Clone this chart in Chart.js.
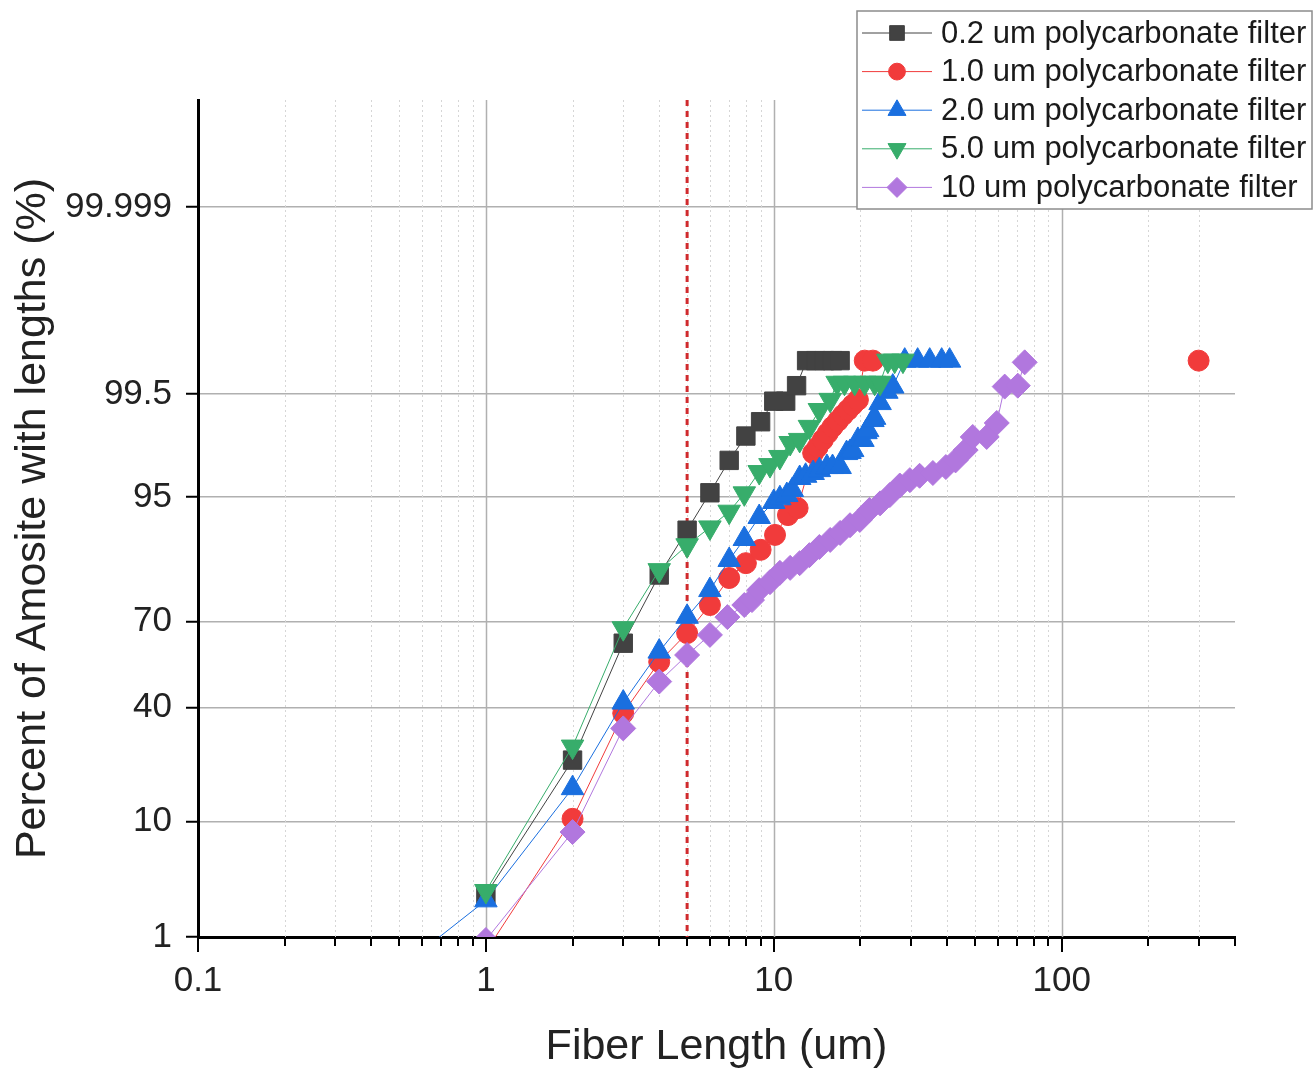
<!DOCTYPE html>
<html>
<head>
<meta charset="utf-8">
<script src="https://cdn.jsdelivr.net/npm/chart.js@4.4.1/dist/chart.umd.min.js"></script>
<style>
  body { margin: 0; background: #fff; }
  canvas { display: block; }
</style>
</head>
<body>
<canvas id="chart" width="1316" height="1073"></canvas>
<script>
// tick values
const xTickValues = [0.1, 0.2, 0.3, 0.4, 0.5, 0.6, 0.7, 0.8, 0.9,
  1, 2, 3, 4, 5, 6, 7, 8, 9, 10, 20, 30, 40, 50, 60, 70, 80, 90, 100, 200, 300, 400];
const xTickLabels = [0.1, 1, 10, 100];
const yTickValues = [1, 10, 40, 70, 95, 99.5, 99.999];
const yMin = 1;
const yMax = 99.9999916;
const cutoffLength = 5;

const seriesNames = [
  '0.2 um polycarbonate filter',
  '1.0 um polycarbonate filter',
  '2.0 um polycarbonate filter',
  '5.0 um polycarbonate filter',
  '10 um polycarbonate filter'
];

// fiber length (um) and cumulative percent
const len02 = [1, 2, 3, 4, 5, 6, 7, 8, 9, 10, 11, 12, 13, 14, 15, 16, 17];
const pct02 = [2.6, 23.3, 62.8, 82.7, 91.1, 95.4, 97.6, 98.6, 99.0, 99.4, 99.4, 99.6, 99.8, 99.8, 99.8, 99.8, 99.8];

const len10 = [1, 2, 3, 4, 5, 6, 7, 8, 9, 10.1, 11.2, 12.1, 13.7, 14.2, 14.8, 15.4, 16.0, 16.7, 17.4, 18.1, 18.8, 19.6, 20.7, 22.1, 299];
const pct10 = [0.7, 10.4, 38.0, 56.3, 66.2, 74.9, 82.0, 85.3, 87.9, 90.4, 93.1, 93.9, 97.95, 98.2, 98.47, 98.69, 98.87, 99.02, 99.15, 99.25, 99.34, 99.42, 99.8, 99.8, 99.8];

const len20 = [0.5, 1, 2, 3, 4, 5, 6, 7, 7.9, 8.9, 10.0, 10.5, 11.1, 11.6, 12.3, 12.9, 13.7, 14.4, 15.3, 16.0, 17.0,
  17.9, 18.4, 18.8, 19.6, 20.4, 20.9, 21.2, 22.1, 22.4, 23.4, 24.7, 25.9, 28.5, 31.6, 34.8, 38.3, 40.8];
const pct20 = [0.45, 2.3, 16.3, 41.7, 59.9, 71.4, 79.0, 85.95, 89.75, 92.87, 94.54, 94.9, 95.2, 95.64, 96.55, 96.7, 96.88, 97.06, 97.24, 97.24, 97.24,
  97.95, 98.0, 98.08, 98.47, 98.47, 98.72, 98.78, 99.04, 99.09, 99.37, 99.53, 99.59, 99.8, 99.8, 99.8, 99.8, 99.8];

const len50 = [1, 2, 3, 4, 5, 6, 7, 7.9, 8.9, 9.7, 10.5, 11.4, 12.3, 13.3, 14.4, 15.7, 16.6, 17.6, 19.1, 20.7, 22.4, 23.4, 24.9, 26.3, 28.1];
const pct50 = [2.8, 27.2, 67.8, 83.8, 88.7, 91.5, 93.5, 95.35, 96.94, 97.35, 97.77, 98.36, 98.47, 98.87, 99.25, 99.42, 99.63, 99.63, 99.63, 99.63, 99.63, 99.63, 99.8, 99.8, 99.8];

const len100 = [1, 2, 3, 4, 5, 6, 6.9, 7.9, 8.4, 8.9, 9.7, 10.5, 11.4, 12.3, 13.3, 14.4, 15.7, 17.0, 18.4, 19.9, 21.5,
  23.4, 25.3, 27.4, 29.7, 32.1, 35.7, 39.6, 42.8, 46.4, 49.1, 54.9, 59.5, 63.4, 70.4, 74.4];
const pct100 = [0.93, 8.4, 32.9, 49.2, 58.7, 65.6, 71.3, 74.9, 76.3, 79.0, 81.0, 83.2, 84.3, 85.3, 86.9, 88.4, 89.6, 90.7, 91.8, 92.5, 93.7,
  94.4, 95.2, 96.0, 96.4, 96.7, 96.88, 97.24, 97.6, 98.08, 98.57, 98.57, 98.97, 99.59, 99.6, 99.79];

const colors = ['#424242', '#F13B3B', '#1A6FDF', '#37AD6B', '#B177DE'];
const markers = [
  { pointStyle: 'rect', rotation: 0, radius: 13 },
  { pointStyle: 'circle', rotation: 0, radius: 10.5 },
  { pointStyle: 'triangle', rotation: 0, radius: 13 },
  { pointStyle: 'triangle', rotation: 180, radius: 13 },
  { pointStyle: 'rectRot', rotation: 0, radius: 12.5 }
];

// inverse normal CDF (Acklam)
function probit(p) {
  const a = [-3.969683028665376e+01, 2.209460984245205e+02, -2.759285104469687e+02, 1.383577518672690e+02, -3.066479806614716e+01, 2.506628277459239e+00];
  const b = [-5.447609879822406e+01, 1.615858368580409e+02, -1.556989798598866e+02, 6.680131188771972e+01, -1.328068155288572e+01];
  const c = [-7.784894002430293e-03, -3.223964580411365e-01, -2.400758277161838e+00, -2.549732539343734e+00, 4.374664141464968e+00, 2.938163982698783e+00];
  const d = [7.784695709041462e-03, 3.224671290700398e-01, 2.445134137142996e+00, 3.754408661907416e+00];
  const pl = 0.02425;
  let q, r;
  if (p < pl) {
    q = Math.sqrt(-2 * Math.log(p));
    return (((((c[0]*q+c[1])*q+c[2])*q+c[3])*q+c[4])*q+c[5]) / ((((d[0]*q+d[1])*q+d[2])*q+d[3])*q+1);
  }
  if (p > 1 - pl) {
    q = Math.sqrt(-2 * Math.log(1 - p));
    return -(((((c[0]*q+c[1])*q+c[2])*q+c[3])*q+c[4])*q+c[5]) / ((((d[0]*q+d[1])*q+d[2])*q+d[3])*q+1);
  }
  q = p - 0.5; r = q * q;
  return (((((a[0]*r+a[1])*r+a[2])*r+a[3])*r+a[4])*r+a[5])*q / (((((b[0]*r+b[1])*r+b[2])*r+b[3])*r+b[4])*r+1);
}

// probability (probit) axis: values in percent
class ProbitScale extends Chart.LinearScale {
  static id = 'probit';
  static defaults = { ticks: { callback: v => String(v) } };
  determineDataLimits() {
    this.min = this.options.min;
    this.max = this.options.max;
  }
  buildTicks() {
    return yTickValues.map(v => ({ value: v }));
  }
  configure() {
    super.configure();
    this._zStart = probit(this.min / 100);
    this._zRange = probit(this.max / 100) - this._zStart;
  }
  getPixelForValue(v) {
    if (v === null || isNaN(v)) return NaN;
    return this.getPixelForDecimal((probit(v / 100) - this._zStart) / this._zRange);
  }
  getValueForPixel(px) {
    const z = this._zStart + this.getDecimalForPixel(px) * this._zRange;
    let lo = 1e-12, hi = 1 - 1e-12;
    for (let i = 0; i < 60; i++) {
      const mid = (lo + hi) / 2;
      if (probit(mid) < z) lo = mid; else hi = mid;
    }
    return lo * 100;
  }
}
Chart.register(ProbitScale);

const lengths = [len02, len10, len20, len50, len100];
const percents = [pct02, pct10, pct20, pct50, pct100];

const datasets = seriesNames.map((name, i) => ({
  label: name,
  data: lengths[i].map((x, j) => ({ x: x, y: percents[i][j] })),
  showLine: true,
  borderColor: colors[i],
  borderWidth: 1,
  backgroundColor: colors[i],
  pointBackgroundColor: colors[i],
  pointBorderColor: colors[i],
  pointBorderWidth: 1,
  pointStyle: markers[i].pointStyle,
  pointRotation: markers[i].rotation,
  pointRadius: markers[i].radius,
  order: 5 - i,
  // the 1.0 um outlier at ~300 um is not joined to the rest
  segment: i === 1 ? {
    borderColor: ctx => ctx.p1DataIndex === len10.length - 1 ? 'rgba(0,0,0,0)' : colors[i]
  } : undefined
}));

const decorations = {
  id: 'decorations',
  beforeDatasetsDraw(chart) {
    const { ctx, chartArea: a, scales: { x } } = chart;
    ctx.save();
    xTickValues.forEach(v => {
      const px = Math.round(x.getPixelForValue(v)) + 0.5;
      if (px <= a.left + 2 || px >= a.right - 2) return;
      const major = xTickLabels.includes(v);
      ctx.strokeStyle = major ? '#b0b0b0' : '#d6d6d6';
      ctx.lineWidth = major ? 1.5 : 1;
      ctx.setLineDash(major ? [] : [2, 3]);
      ctx.beginPath();
      ctx.moveTo(px, a.top);
      ctx.lineTo(px, a.bottom);
      ctx.stroke();
    });
    const cx = x.getPixelForValue(cutoffLength);
    ctx.strokeStyle = '#d02a2d';
    ctx.lineWidth = 3;
    ctx.setLineDash([6, 5]);
    ctx.beginPath();
    ctx.moveTo(cx, a.top);
    ctx.lineTo(cx, a.bottom);
    ctx.stroke();
    ctx.restore();
  },
  afterDraw(chart) {
    const { ctx, chartArea: a, scales: { x } } = chart;
    ctx.save();
    // x tick marks, long for decades, short between
    ctx.strokeStyle = '#000';
    ctx.lineWidth = 2;
    xTickValues.forEach(v => {
      const px = Math.round(x.getPixelForValue(v));
      const len = xTickLabels.includes(v) ? 15 : 9;
      ctx.beginPath();
      ctx.moveTo(px, a.bottom);
      ctx.lineTo(px, a.bottom + len);
      ctx.stroke();
    });

    // legend box
    const box = { left: 857, top: 11, right: 1312, bottom: 209 };
    ctx.fillStyle = '#fff';
    ctx.fillRect(box.left, box.top, box.right - box.left, box.bottom - box.top);
    ctx.strokeStyle = '#8c8c8c';
    ctx.lineWidth = 1.5;
    ctx.strokeRect(box.left, box.top, box.right - box.left, box.bottom - box.top);
    ctx.font = '31px "Liberation Sans", Arial, sans-serif';
    ctx.textBaseline = 'middle';
    ctx.textAlign = 'left';
    seriesNames.forEach((name, i) => {
      const y = 33 + i * 38.6;
      ctx.strokeStyle = colors[i];
      ctx.lineWidth = 1;
      ctx.beginPath();
      ctx.moveTo(862, y);
      ctx.lineTo(932, y);
      ctx.stroke();
      ctx.fillStyle = colors[i];
      ctx.strokeStyle = colors[i];
      ctx.lineWidth = 1;
      Chart.helpers.drawPoint(ctx, {
        pointStyle: markers[i].pointStyle,
        rotation: markers[i].rotation,
        radius: markers[i].radius * 0.8,
        borderWidth: 1
      }, 897, y);
      ctx.fillStyle = '#1a1a1a';
      ctx.fillText(name, 941, y + 1);
    });
    ctx.restore();
  }
};

new Chart(document.getElementById('chart'), {
  type: 'scatter',
  data: { datasets: datasets },
  plugins: [decorations],
  options: {
    responsive: false,
    devicePixelRatio: 1,
    animation: false,
    events: [],
    layout: { padding: { top: 100, right: 81, left: 0, bottom: 0 } },
    plugins: {
      legend: { display: false },
      tooltip: { enabled: false }
    },
    scales: {
      x: {
        type: 'logarithmic',
        position: 'bottom',
        min: 0.1,
        max: 400,
        afterBuildTicks: s => { s.ticks = xTickValues.map(v => ({ value: v })); },
        afterFit: s => { s.height = 136; },
        grid: { drawOnChartArea: false, drawTicks: false },
        border: { color: '#000', width: 3 },
        ticks: {
          autoSkip: false,
          maxRotation: 0,
          padding: 23,
          color: '#222',
          font: { family: '"Liberation Sans", Arial, sans-serif', size: 35 },
          callback: v => xTickLabels.includes(v) ? String(v) : ''
        },
        title: {
          display: true,
          text: 'Fiber Length (um)',
          color: '#222',
          padding: { top: 0, bottom: 0 },
          font: { family: '"Liberation Sans", Arial, sans-serif', size: 43 }
        }
      },
      y: {
        type: 'probit',
        position: 'left',
        min: yMin,
        max: yMax,
        afterFit: s => { s.width = 198; },
        grid: {
          color: '#b0b0b0',
          lineWidth: 1.5,
          drawTicks: true,
          tickLength: 12,
          tickColor: '#000',
          tickWidth: 2
        },
        border: { color: '#000', width: 3 },
        ticks: {
          padding: 14,
          color: '#222',
          font: { family: '"Liberation Sans", Arial, sans-serif', size: 35 },
          callback: v => String(v)
        },
        title: {
          display: true,
          text: 'Percent of Amosite with lengths (%)',
          color: '#222',
          padding: { top: 7, bottom: 0 },
          font: { family: '"Liberation Sans", Arial, sans-serif', size: 43 }
        }
      }
    }
  }
});
</script>
</body>
</html>
